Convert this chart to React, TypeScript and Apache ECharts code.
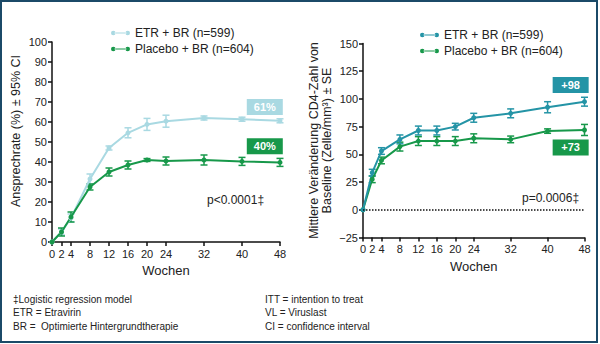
import React, { useEffect, useRef } from "react";
import * as echarts from "echarts";

const weeks = [0, 2, 4, 8, 12, 16, 20, 24, 32, 40, 48];

const etrResp = [0, 5, 12, 31.5, 47, 54.6, 58.8, 60.4, 62, 61.4, 60.6];
const etrRespErr = [0, 1.5, 2, 2.5, 1, 2.5, 3, 3, 1, 1, 1];
const plcResp = [0, 5, 12.5, 27.5, 35, 38.5, 41, 40.5, 41, 40.3, 39.8];
const plcRespErr = [0, 2, 2.5, 1.5, 2, 2, 0.7, 2, 2.5, 2, 2];

const etrCd4 = [0, 33.5, 53, 63.5, 71.5, 71.5, 75, 83, 87, 92.5, 97.5];
const etrCd4Err = [0, 3, 3, 4, 4, 4, 3, 4, 4, 5, 4];
const plcCd4 = [0, 27.5, 44.5, 57, 62, 62, 62, 64.5, 63.5, 71, 72];
const plcCd4Err = [0, 3, 3, 4, 4, 4, 4, 4, 3, 2, 5];

const legendNames = ["ETR + BR (n=599)", "Placebo + BR (n=604)"];
const respLabels = ["61%", "40%"];
const cd4Labels = ["+98", "+73"];
const respLabelPos = [
  [44.8, 67.5],
  [44.8, 47.9],
];
const cd4LabelPos = [
  [45, 112.5],
  [45, 56.2],
];
const footLeft = ["‡Logistic regression model", "ETR = Etravirin", "BR =  Optimierte Hintergrundtherapie"];
const footRight = ["ITT = intention to treat", "VL = Viruslast", "CI = confidence interval"];

const FONT = "'Liberation Sans', Arial, sans-serif";
const LIGHT = "#a9d9e2";
const GREEN = "#17984a";
const TEAL = "#2494a6";

const ICON =
  "path://M0.5,4a3.5,3.5 0 1,0 7,0a3.5,3.5 0 1,0 -7,0z M6,3.2h18v1.6h-18z M22.5,4a3.5,3.5 0 1,0 7,0a3.5,3.5 0 1,0 -7,0z";

function errData(vals: number[], errs: number[]) {
  return weeks
    .map((w, i) => [w, vals[i] - errs[i], vals[i] + errs[i]])
    .filter((d, i) => errs[i] > 0);
}

function errSeries(vals: number[], errs: number[], color: string) {
  return {
    type: "custom",
    silent: true,
    data: errData(vals, errs),
    encode: { x: 0, y: [1, 2] },
    z: 3,
    renderItem: (params: any, api: any) => {
      const x = api.value(0);
      const p1 = api.coord([x, api.value(2)]);
      const p2 = api.coord([x, api.value(1)]);
      const w = 3.5;
      const st = { stroke: color, lineWidth: 1.5 };
      return {
        type: "group",
        children: [
          { type: "line", shape: { x1: p1[0], y1: p1[1], x2: p2[0], y2: p2[1] }, style: st },
          { type: "line", shape: { x1: p1[0] - w, y1: p1[1], x2: p1[0] + w, y2: p1[1] }, style: st },
          { type: "line", shape: { x1: p2[0] - w, y1: p2[1], x2: p2[0] + w, y2: p2[1] }, style: st },
        ],
      };
    },
  };
}

function lineSeries(name: string, vals: number[], color: string, label: string, pos: number[]) {
  return {
    type: "line",
    name,
    data: weeks.map((w, i) => [w, vals[i]]),
    color,
    lineStyle: { color, width: 2 },
    itemStyle: { color },
    symbol: "circle",
    symbolSize: 5,
    z: 4,
    markPoint: {
      silent: true,
      data: [
        {
          coord: pos,
          symbol: "rect",
          symbolSize: [36, 16],
          itemStyle: { color },
          label: {
            show: true,
            position: "inside",
            formatter: label,
            color: "#fff",
            fontWeight: "bold",
            fontSize: 11,
            fontFamily: FONT,
          },
        },
      ],
    },
  };
}

const axisCommon = {
  axisLine: { show: true, onZero: false, lineStyle: { color: "#111", width: 1.5 } },
  axisTick: { show: true, length: 4, lineStyle: { color: "#111", width: 1.5 } },
  splitLine: { show: false },
};

function xAxis() {
  return {
    type: "value",
    min: 0,
    max: 48,
    name: "Wochen",
    nameLocation: "middle",
    nameGap: 22,
    nameTextStyle: { fontSize: 13, color: "#222", fontFamily: FONT },
    ...axisCommon,
    axisTick: { ...axisCommon.axisTick, customValues: weeks },
    axisLabel: { customValues: weeks, fontSize: 11, color: "#222", fontFamily: FONT, margin: 6 },
  };
}

function legend(left: number, top: number) {
  return {
    left,
    top,
    orient: "vertical",
    itemGap: 4,
    itemWidth: 19,
    itemHeight: 5,
    icon: ICON,
    textStyle: { fontSize: 12, color: "#222", fontFamily: FONT },
    data: legendNames,
  };
}

export default function App() {
  const refA = useRef<HTMLDivElement>(null);
  const refB = useRef<HTMLDivElement>(null);

  useEffect(() => {
    const a = echarts.init(refA.current!, undefined, { renderer: "svg" });
    const b = echarts.init(refB.current!, undefined, { renderer: "svg" });

    const footGraphics: any[] = [];
    footLeft.forEach((t, i) =>
      footGraphics.push({
        type: "text",
        left: 13,
        top: 294 + i * 13.5,
        style: { text: t, fontSize: 10, fill: "#222", fontFamily: FONT },
      })
    );
    footRight.forEach((t, i) =>
      footGraphics.push({
        type: "text",
        left: 265,
        top: 294 + i * 13.5,
        style: { text: t, fontSize: 10, fill: "#222", fontFamily: FONT },
      })
    );

    a.setOption({
      animation: false,
      backgroundColor: "#fff",
      textStyle: { fontFamily: FONT },
      grid: { left: 52, top: 42, width: 228, height: 200 },
      legend: legend(106, 22),
      xAxis: xAxis(),
      yAxis: {
        type: "value",
        min: 0,
        max: 100,
        interval: 10,
        name: "Ansprechrate (%) ± 95% CI",
        nameLocation: "middle",
        nameGap: 30,
        nameTextStyle: { fontSize: 12.5, color: "#222", fontFamily: FONT, padding: [0, 0, 0, 22] },
        ...axisCommon,
        axisLabel: { fontSize: 11, color: "#222", fontFamily: FONT, margin: 5 },
      },
      series: [
        lineSeries(legendNames[0], etrResp, LIGHT, respLabels[0], respLabelPos[0]),
        errSeries(etrResp, etrRespErr, LIGHT),
        lineSeries(legendNames[1], plcResp, GREEN, respLabels[1], respLabelPos[1]),
        errSeries(plcResp, plcRespErr, GREEN),
      ],
      graphic: [
        {
          type: "rect",
          shape: { x: 1, y: 1, width: 596, height: 341 },
          style: { fill: "none", stroke: "#1b4a68", lineWidth: 2 },
          silent: true,
        },
        {
          type: "text",
          left: 207,
          top: 194,
          style: { text: "p<0.0001‡", fontSize: 12, fill: "#222", fontFamily: FONT },
        },
        ...footGraphics,
      ],
    });

    b.setOption({
      animation: false,
      textStyle: { fontFamily: FONT },
      grid: { left: 363, top: 43.5, right: 15.5, bottom: 106.5 },
      legend: legend(415, 24),
      xAxis: xAxis(),
      yAxis: {
        type: "value",
        min: -25,
        max: 150,
        interval: 25,
        name: "Mittlere Veränderung CD4-Zahl von\nBaseline (Zelle/mm³) ± SE",
        nameLocation: "middle",
        nameGap: 30,
        nameTextStyle: { fontSize: 12.5, color: "#222", fontFamily: FONT, lineHeight: 13 },
        ...axisCommon,
        axisLabel: {
          fontSize: 11,
          color: "#222",
          fontFamily: FONT,
          margin: 5,
          formatter: (v: number) => String(v).replace("-", "−"),
        },
      },
      series: [
        {
          ...lineSeries(legendNames[1], plcCd4, GREEN, cd4Labels[1], cd4LabelPos[1]),
          markLine: {
            silent: true,
            symbol: "none",
            label: { show: false },
            lineStyle: { type: "dotted", color: "#111", width: 1.5 },
            data: [{ yAxis: 0 }],
          },
        },
        errSeries(plcCd4, plcCd4Err, GREEN),
        lineSeries(legendNames[0], etrCd4, TEAL, cd4Labels[0], cd4LabelPos[0]),
        errSeries(etrCd4, etrCd4Err, TEAL),
      ],
      graphic: [
        {
          type: "text",
          left: 522,
          top: 192,
          style: { text: "p=0.0006‡", fontSize: 12, fill: "#222", fontFamily: FONT },
        },
      ],
    });

    return () => {
      a.dispose();
      b.dispose();
    };
  }, []);

  return (
    <div style={{ position: "fixed", left: 0, top: 0, width: 600, height: 344 }}>
      <div ref={refA} style={{ position: "absolute", left: 0, top: 0, width: 600, height: 344 }} />
      <div ref={refB} style={{ position: "absolute", left: 0, top: 0, width: 600, height: 344 }} />
    </div>
  );
}
